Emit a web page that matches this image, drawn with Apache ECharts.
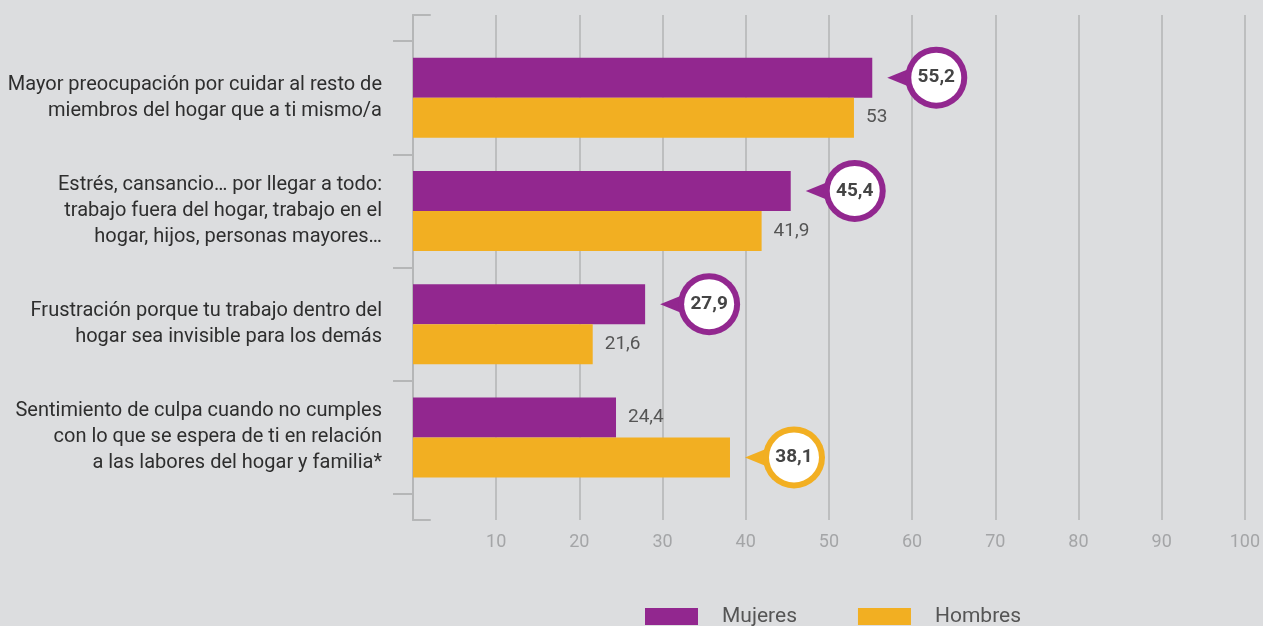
<!DOCTYPE html>
<html>
<head>
<meta charset="utf-8">
<script src="https://cdn.jsdelivr.net/npm/echarts@6/dist/echarts.min.js"></script>
<style>
  html, body { margin: 0; padding: 0; background: #dcdddf; }
  #chart { width: 1263px; height: 626px; }
</style>
</head>
<body>
<div id="chart"></div>
<script>
// datos
var categorias = [
  "Mayor preocupación por cuidar al resto de\nmiembros del hogar que a ti mismo/a",
  "Estrés, cansancio… por llegar a todo:\ntrabajo fuera del hogar, trabajo en el\nhogar, hijos, personas mayores…",
  "Frustración porque tu trabajo dentro del\nhogar sea invisible para los demás",
  "Sentimiento de culpa cuando no cumples\ncon lo que se espera de ti en relación\na las labores del hogar y familia*"
];
var mujeres = [55.2, 45.4, 27.9, 24.4];
var hombres = [53, 41.9, 21.6, 38.1];
var xTicks = [0, 10, 20, 30, 40, 50, 60, 70, 80, 90, 100];

var MORADO = "#92278f";
var NARANJA = "#f2af22";
var FONT = "Roboto";

function coma(v) {
  return String(v).replace(".", ",");
}

// el valor mayor de cada par va en el globo
var destacados = [];
for (var i = 0; i < categorias.length; i++) {
  if (mujeres[i] >= hombres[i]) destacados.push([mujeres[i], i, 0]);
  else destacados.push([hombres[i], i, 1]);
}

function barData(vals, serieIdx) {
  return vals.map(function (v, i) {
    var esDestacado = destacados[i][2] === serieIdx;
    return { value: v, label: { show: !esDestacado } };
  });
}

var chart = echarts.init(document.getElementById("chart"));

var option = {
  backgroundColor: "#dcdddf",
  animation: false,
  textStyle: { fontFamily: FONT },
  legend: {
    data: ["Mujeres", "Hombres"],
    left: 645,
    top: 606,
    padding: 0,
    icon: "rect",
    itemWidth: 53,
    itemHeight: 17,
    itemGap: 61,
    textStyle: {
      fontFamily: FONT,
      fontSize: 21,
      color: "#555",
      padding: [3, 0, 0, 19]
    }
  },
  grid: [
    // rejilla de fondo (líneas verticales y eje)
    { left: 413, right: 18, top: 15, bottom: 106, containLabel: false },
    // barras
    { left: 413, right: 18, top: 41, bottom: 132, containLabel: false },
    // remates horizontales del eje
    { left: 413, width: 17, top: 15, bottom: 106, containLabel: false }
  ],
  xAxis: [
    {
      gridIndex: 0,
      type: "value",
      min: xTicks[0],
      max: xTicks[xTicks.length - 1],
      interval: 10,
      axisLine: { show: false },
      axisTick: { show: false },
      splitLine: { show: true, lineStyle: { color: "#bdbebf", width: 2 } },
      axisLabel: {
        showMinLabel: false,
        margin: 13,
        fontSize: 18,
        color: "#a4a5a7",
        fontFamily: FONT
      }
    },
    {
      gridIndex: 1,
      type: "value",
      min: xTicks[0],
      max: xTicks[xTicks.length - 1],
      show: false
    },
    {
      gridIndex: 2,
      type: "value",
      position: "top",
      axisLine: { show: true, onZero: false, lineStyle: { color: "#b5b6b7", width: 2 } },
      axisTick: { show: false },
      axisLabel: { show: false },
      splitLine: { show: false }
    },
    {
      gridIndex: 2,
      type: "value",
      position: "bottom",
      axisLine: { show: true, onZero: false, lineStyle: { color: "#b5b6b7", width: 2 } },
      axisTick: { show: false },
      axisLabel: { show: false },
      splitLine: { show: false }
    }
  ],
  yAxis: [
    {
      gridIndex: 0,
      type: "value",
      axisLine: { show: true, lineStyle: { color: "#b5b6b7", width: 2 } },
      axisTick: { show: false },
      axisLabel: { show: false },
      splitLine: { show: false }
    },
    {
      gridIndex: 1,
      type: "category",
      inverse: true,
      data: categorias,
      axisLine: { show: false },
      axisTick: {
        show: true,
        length: 20,
        lineStyle: { color: "#b5b6b7", width: 2 }
      },
      axisLabel: {
        margin: 31,
        fontSize: 20,
        lineHeight: 26,
        color: "#2e2e2e",
        fontFamily: FONT
      }
    },
    {
      gridIndex: 2,
      type: "value",
      show: false
    }
  ],
  series: [
    {
      name: "Mujeres",
      type: "bar",
      xAxisIndex: 1,
      yAxisIndex: 1,
      barWidth: 40,
      barGap: "0%",
      itemStyle: { color: MORADO },
      label: {
        position: "right",
        distance: 12,
        fontSize: 19,
        color: "#555",
        fontFamily: FONT,
        formatter: function (p) { return coma(p.value); }
      },
      data: barData(mujeres, 0)
    },
    {
      name: "Hombres",
      type: "bar",
      xAxisIndex: 1,
      yAxisIndex: 1,
      barWidth: 40,
      barGap: "0%",
      itemStyle: { color: NARANJA },
      label: {
        position: "right",
        distance: 12,
        fontSize: 19,
        color: "#555",
        fontFamily: FONT,
        formatter: function (p) { return coma(p.value); }
      },
      data: barData(hombres, 1)
    },
    {
      // globos con el valor destacado
      name: "globos",
      type: "custom",
      xAxisIndex: 1,
      yAxisIndex: 1,
      clip: false,
      z: 10,
      encode: { x: 0, y: 1 },
      data: destacados,
      renderItem: function (params, api) {
        var pt = api.coord([api.value(0), api.value(1)]);
        var serie = api.value(2);
        var x = pt[0];
        var y = pt[1] + (serie === 0 ? -20 : 20);
        var color = serie === 0 ? MORADO : NARANJA;
        var cx = x + 64;
        return {
          type: "group",
          children: [
            {
              type: "polygon",
              shape: { points: [[x + 15, y], [x + 42, y - 11], [x + 42, y + 11]] },
              style: { fill: color }
            },
            {
              type: "circle",
              shape: { cx: cx, cy: y, r: 31 },
              style: { fill: color }
            },
            {
              type: "circle",
              shape: { cx: cx, cy: y, r: 25 },
              style: { fill: "#fff" }
            },
            {
              type: "text",
              x: cx,
              y: y,
              style: {
                text: coma(api.value(0)),
                align: "center",
                verticalAlign: "middle",
                fontSize: 19,
                fontWeight: "bold",
                fontFamily: FONT,
                fill: "#444"
              }
            }
          ]
        };
      }
    }
  ]
};

chart.setOption(option);
</script>
</body>
</html>
